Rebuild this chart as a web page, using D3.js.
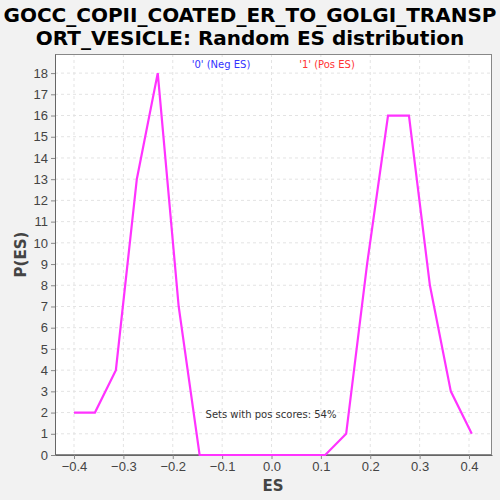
<!DOCTYPE html>
<html>
<head>
<meta charset="utf-8">
<script src="https://cdn.jsdelivr.net/npm/d3@7"></script>
<style>
  body { margin: 0; background: #f2f2f2; }
  svg { display: block; font-family: "DejaVu Sans", sans-serif; }
</style>
</head>
<body>
<div id="chart"></div>
<script>
// ES bins and random ES counts
const esValues = [-0.4, -0.3576, -0.3152, -0.2728, -0.2304, -0.188, -0.1456, -0.1032, -0.0608, -0.0184,
  0.024, 0.0664, 0.1088, 0.1512, 0.1936, 0.236, 0.2784, 0.3208, 0.3632, 0.4056];
const pValues = [2, 2, 4, 13, 18, 7, 0, 0, 0, 0, 0, 0, 0, 1, 9, 16, 16, 8, 3, 1];
const xTicks = [-0.4, -0.3, -0.2, -0.1, 0.0, 0.1, 0.2, 0.3, 0.4];
const yTicks = d3.range(0, 19);
const titleLines = ["GOCC_COPII_COATED_ER_TO_GOLGI_TRANSP", "ORT_VESICLE: Random ES distribution"];

const width = 500, height = 500;
const margin = { top: 54, right: 8, bottom: 45, left: 55 };

const svg = d3.select("#chart").append("svg")
  .attr("width", width)
  .attr("height", height);

svg.append("rect").attr("width", width).attr("height", height).attr("fill", "#f2f2f2");

const x = d3.scaleLinear().domain([-0.4385, 0.4466]).range([margin.left, width - margin.right]);
const y = d3.scaleLinear().domain([0, 18.9]).range([height - margin.bottom, margin.top]);

// plot background
svg.append("rect")
  .attr("x", margin.left).attr("y", margin.top)
  .attr("width", width - margin.left - margin.right)
  .attr("height", height - margin.top - margin.bottom)
  .attr("fill", "#fff");

// grid
const grid = svg.append("g").attr("stroke", "#e3e3e3").attr("stroke-dasharray", "3,3");
grid.selectAll(".gx").data(xTicks).enter().append("line")
  .attr("x1", d => x(d)).attr("x2", d => x(d))
  .attr("y1", margin.top).attr("y2", height - margin.bottom);
grid.selectAll(".gy").data(yTicks).enter().append("line")
  .attr("x1", margin.left).attr("x2", width - margin.right)
  .attr("y1", d => y(d)).attr("y2", d => y(d));

// plot border
svg.append("rect")
  .attr("x", margin.left + 0.5).attr("y", margin.top + 0.5)
  .attr("width", width - margin.left - margin.right - 1)
  .attr("height", height - margin.top - margin.bottom - 1)
  .attr("fill", "none").attr("stroke", "#888");

// axes
const xAxis = svg.append("g")
  .attr("transform", `translate(0,${height - margin.bottom})`)
  .call(d3.axisBottom(x).tickValues(xTicks).tickFormat(d3.format(".1f")).tickSize(4).tickSizeOuter(0));
const yAxis = svg.append("g")
  .attr("transform", `translate(${margin.left},0)`)
  .call(d3.axisLeft(y).tickValues(yTicks).tickSize(4).tickSizeOuter(0));

[xAxis, yAxis].forEach(a => {
  a.select(".domain").attr("stroke", "#666");
  a.selectAll(".tick line").attr("stroke", "#888");
  a.selectAll(".tick text").attr("fill", "#444").style("font-size", "13px");
});

// line
const line = d3.line().x((d, i) => x(esValues[i])).y(d => y(d));
svg.append("path")
  .datum(pValues)
  .attr("d", line)
  .attr("fill", "none")
  .attr("stroke", "#ff33ff")
  .attr("stroke-width", 2.2);

// title
svg.append("g").selectAll("text").data(titleLines).enter().append("text")
  .attr("x", width / 2).attr("y", (d, i) => 22 + i * 23)
  .attr("text-anchor", "middle")
  .attr("font-weight", "bold")
  .style("font-size", "20px")
  .attr("fill", "#000")
  .text(d => d);

// legend
svg.append("text").attr("x", 221).attr("y", 68).attr("text-anchor", "middle")
  .style("font-size", "10px").attr("fill", "#3333ff").text("'0' (Neg ES)");
svg.append("text").attr("x", 327).attr("y", 68).attr("text-anchor", "middle")
  .style("font-size", "10px").attr("fill", "#ff3333").text("'1' (Pos ES)");

// annotation
svg.append("text").attr("x", 271).attr("y", 418).attr("text-anchor", "middle")
  .style("font-size", "10px").attr("fill", "#333").text("Sets with pos scores: 54%");

// axis labels
svg.append("text").attr("x", 273).attr("y", 491).attr("text-anchor", "middle")
  .attr("font-weight", "bold").style("font-size", "15px").attr("fill", "#444").text("ES");
svg.append("text")
  .attr("transform", `translate(26,${(margin.top + height - margin.bottom) / 2}) rotate(-90)`)
  .attr("text-anchor", "middle")
  .attr("font-weight", "bold").style("font-size", "15px").attr("fill", "#444").text("P(ES)");
</script>
</body>
</html>
